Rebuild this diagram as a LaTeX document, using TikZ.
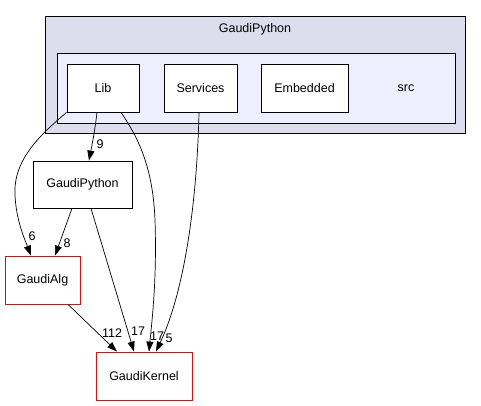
\documentclass[tikz,border=0pt]{standalone}
\usepackage{fontspec}
\setmainfont{Liberation Sans}
\usetikzlibrary{arrows.meta}
\definecolor{outerfill}{HTML}{DDDDEE}
\definecolor{innerfill}{HTML}{EEEEFF}
\tikzset{
  dirbox/.style={draw=black, fill=white, minimum height=48pt, inner sep=0pt, line width=0.8pt, font=\fontsize{12.5}{15}\selectfont},
  extbox/.style={dirbox, draw=red},
  dep/.style={line width=0.7pt, -{Triangle[length=10pt,width=7pt]}},
  lbl/.style={font=\fontsize{12.5}{15}\selectfont, inner sep=0pt},
}
\begin{document}
\begin{tikzpicture}[x=1pt,y=-1pt]
\useasboundingbox (0,0) rectangle (481,405);
\draw[fill=outerfill, line width=0.8pt] (45,16) rectangle (465,133);
\node[lbl] (gptitle) at (255,29) {GaudiPython};
\draw[fill=innerfill, line width=0.8pt] (57,53) rectangle (455,123);
\node[lbl] (srclbl) at (406,88) {src};
\node[dirbox, minimum width=72pt] (lib) at (103,88) {Lib};
\node[dirbox, minimum width=73pt] (svc) at (200.5,88) {Services};
\node[dirbox, minimum width=87pt] (emb) at (304.5,88) {Embedded};
\node[dirbox, minimum width=99pt, minimum height=47pt] (gp) at (82.5,184.5) {GaudiPython};
\node[extbox, minimum width=75pt] (alg) at (42.5,280) {GaudiAlg};
\node[extbox, minimum width=96pt] (gk) at (144,376) {GaudiKernel};

\draw[dep] (lib.south west) .. controls (40,135) and (13,160) .. (15,195) .. controls (16,220) and (25,240) .. ([xshift=-11.5pt]alg.north);
\node[lbl] (l6) at (32,236) {6};
\draw[dep] ([xshift=-6pt]lib.south) .. controls (95,130) and (92,145) .. ([xshift=6.5pt]gp.north);
\node[lbl] (l9) at (100,144) {9};
\draw[dep] ([xshift=-10.5pt]gp.south) -- ([xshift=12.5pt]alg.north);
\node[lbl] (l8) at (67,243) {8};
\draw[dep] ([xshift=25.5pt]alg.south) -- ([xshift=-27pt]gk.north);
\node[lbl] (l112) at (112,333) {112};
\draw[dep] ([xshift=8.5pt]gp.south) -- ([xshift=-10pt]gk.north);
\node[lbl] (l17a) at (138,331) {17};
\draw[dep] ([xshift=18pt]lib.south) .. controls (140,140) and (153,170) .. (155,220) .. controls (157,280) and (152,320) .. ([xshift=5pt]gk.north);
\node[lbl] (l17b) at (157,336) {17};
\draw[dep] ([xshift=-1.5pt]svc.south) .. controls (197,200) and (185,290) .. ([xshift=12pt]gk.north);
\node[lbl] (l5) at (169,338) {5};
\end{tikzpicture}
\end{document}
